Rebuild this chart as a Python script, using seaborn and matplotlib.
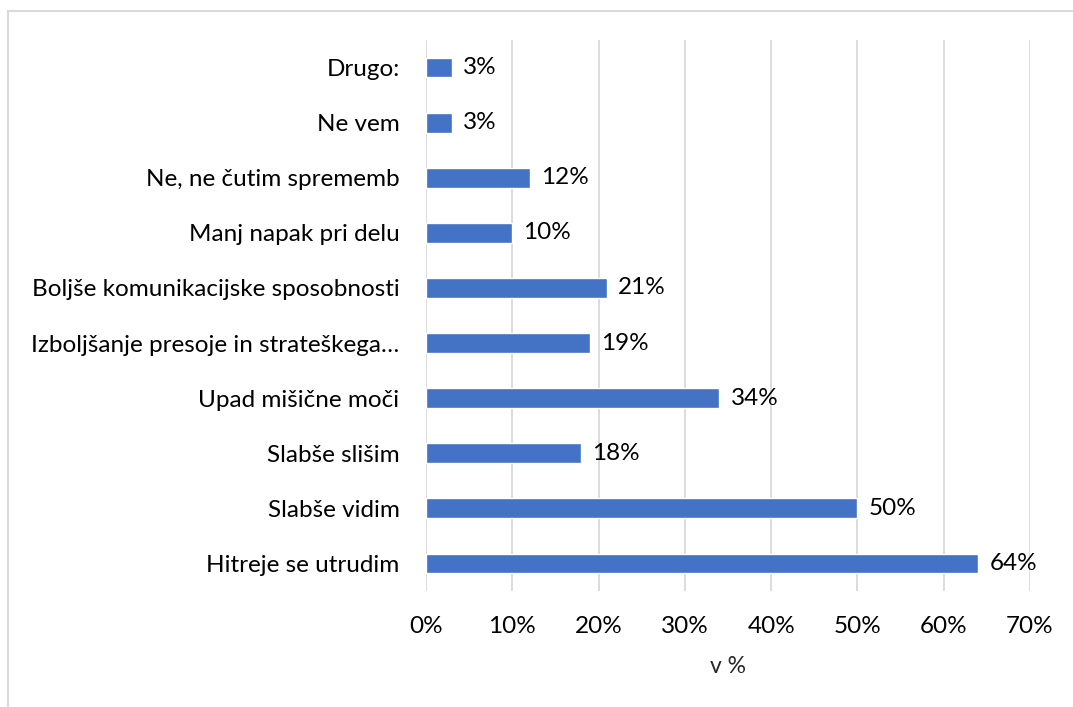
import matplotlib
matplotlib.use("Agg")
import matplotlib.pyplot as plt
import matplotlib.patches as mpatches
from matplotlib.ticker import PercentFormatter
import seaborn as sns
import pandas as pd

categories = [
    "Drugo:",
    "Ne vem",
    "Ne, ne čutim sprememb",
    "Manj napak pri delu",
    "Boljše komunikacijske sposobnosti",
    "Izboljšanje presoje in strateškega…",
    "Upad mišične moči",
    "Slabše slišim",
    "Slabše vidim",
    "Hitreje se utrudim",
]
values = [3, 3, 12, 10, 21, 19, 34, 18, 50, 64]
x_ticks = [0, 10, 20, 30, 40, 50, 60, 70]
x_label = "v %"

df = pd.DataFrame({"kategorija": categories, "delez": values})

sns.set_theme(style="white")
plt.rcParams["font.family"] = ["Lato", "DejaVu Sans"]

fig = plt.figure(figsize=(10.73, 7.07), dpi=100)
ax = fig.add_axes([426 / 1073, 1 - 591 / 707, (1030 - 426) / 1073, (591 - 40) / 707])

sns.barplot(data=df, x="delez", y="kategorija", order=categories,
            color="#4472C4", saturation=1, width=0.36, ax=ax, zorder=3)

ax.set_xlim(0, 70)
ax.set_ylim(9.5, -0.5)
ax.set_xticks(x_ticks)
ax.xaxis.set_major_formatter(PercentFormatter(decimals=0))
ax.grid(axis="x", color="#d9d9d9", linewidth=1.3, zorder=0)
ax.grid(axis="y", visible=False)
for s in ax.spines.values():
    s.set_visible(False)
ax.tick_params(axis="both", length=0, labelsize=17.5, colors="#000000")
ax.tick_params(axis="x", pad=18)
ax.tick_params(axis="y", pad=19)
ax.set_ylabel("")
ax.set_xlabel(x_label, fontsize=16.5, labelpad=14)

for i, v in enumerate(values):
    ax.annotate(f"{v}%", (v, i), xytext=(8, 0), textcoords="offset points",
                va="center", ha="left", fontsize=17.5, color="#000000")

# outer chart frame
fig.patches.append(mpatches.Rectangle((8 / 1073, -0.1), 1.2, 1 - 11 / 707 + 0.1,
                                      transform=fig.transFigure, fill=False,
                                      edgecolor="#d9d9d9", linewidth=1.5))

fig.savefig("out.png", dpi=100)
